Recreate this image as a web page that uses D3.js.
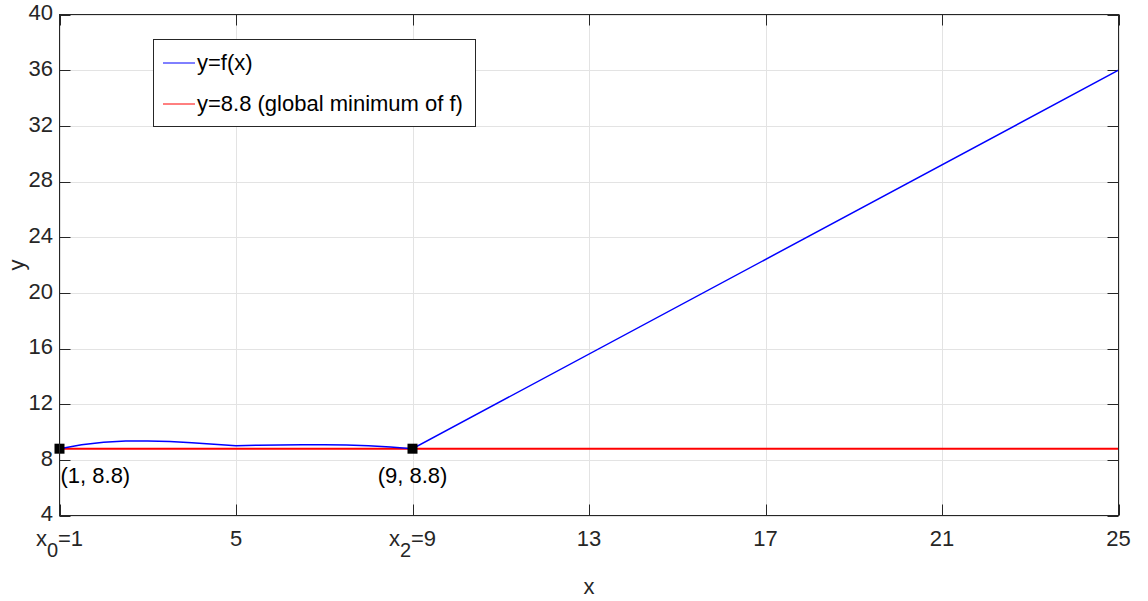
<!DOCTYPE html>
<html>
<head>
<meta charset="utf-8">
<script src="https://cdn.jsdelivr.net/npm/d3@7"></script>
<style>
  body { margin: 0; background: #fff; }
  text { font-family: "Liberation Sans", Arial, sans-serif; fill: #262626; }
</style>
</head>
<body>
<div class="display"></div>
<script>
// f(x) sampled from the picture, and the minimum line
const xs = [1, 1.5, 2, 2.5, 3, 3.5, 4, 4.5, 5, 5.5, 6, 6.5, 7, 7.5, 8, 8.5, 9, 25];
const ys = [8.8, 9.08, 9.26, 9.35, 9.36, 9.31, 9.22, 9.12, 9.02, 9.05, 9.07, 9.08, 9.08, 9.06, 9.01, 8.93, 8.8, 36];
const minY = 8.8;
const minX = [1, 25];
const markedX = [1, 9];
const markedLabels = ['(1, 8.8)', '(9, 8.8)'];

const xTicks = [1, 5, 9, 13, 17, 21, 25];
const xTickSub = { 1: ['x', '0', '=1'], 9: ['x', '2', '=9'] };
const yTicks = [4, 8, 12, 16, 20, 24, 28, 32, 36, 40];
const legendLabels = ['y=f(x)', 'y=8.8 (global minimum of f)'];

const WIDTH = 1148;
const HEIGHT = 601;
const LEFT = 59.5, RIGHT = 1118.5, TOP = 14.5, BOTTOM = 515.5;
const TICK = 11;

const svg = d3.select('.display').append('svg')
  .attr('width', WIDTH)
  .attr('height', HEIGHT);

const x = d3.scaleLinear().domain([1, 25]).range([LEFT, RIGHT]);
const y = d3.scaleLinear().domain([4, 40]).range([BOTTOM, TOP]);

// grid
const grid = svg.append('g');
grid.selectAll('.gx').data(xTicks).enter().append('line')
  .attr('x1', d => Math.round(x(d)) + 0.5).attr('x2', d => Math.round(x(d)) + 0.5)
  .attr('y1', TOP).attr('y2', BOTTOM)
  .attr('stroke', '#e3e3e3');
grid.selectAll('.gy').data(yTicks).enter().append('line')
  .attr('y1', d => Math.round(y(d)) + 0.5).attr('y2', d => Math.round(y(d)) + 0.5)
  .attr('x1', LEFT).attr('x2', RIGHT)
  .attr('stroke', '#e3e3e3');

// ticks on all four sides, pointing inward
const ticks = svg.append('g').attr('stroke', '#262626');
xTicks.forEach(d => {
  const px = Math.round(x(d)) + 0.5;
  ticks.append('line').attr('x1', px).attr('x2', px).attr('y1', BOTTOM).attr('y2', BOTTOM - TICK);
  ticks.append('line').attr('x1', px).attr('x2', px).attr('y1', TOP).attr('y2', TOP + TICK);
});
yTicks.forEach(d => {
  const py = Math.round(y(d)) + 0.5;
  ticks.append('line').attr('y1', py).attr('y2', py).attr('x1', LEFT).attr('x2', LEFT + TICK);
  ticks.append('line').attr('y1', py).attr('y2', py).attr('x1', RIGHT).attr('x2', RIGHT - TICK);
});

// data lines
const line = d3.line().x(d => x(d[0])).y(d => y(d[1]));
svg.append('path')
  .datum(minX.map(v => [v, minY]))
  .attr('d', line)
  .attr('fill', 'none')
  .attr('stroke', '#ff0000')
  .attr('stroke-width', 2);
svg.append('path')
  .datum(xs.map((v, i) => [v, ys[i]]))
  .attr('d', line)
  .attr('fill', 'none')
  .attr('stroke', '#0000ff')
  .attr('stroke-width', 1.5);

// markers
svg.selectAll('.marker').data(markedX).enter().append('rect')
  .attr('x', d => x(d) - 5).attr('y', y(minY) - 5)
  .attr('width', 10).attr('height', 10)
  .attr('fill', '#000');

svg.append('text')
  .attr('x', x(markedX[0]) + 1).attr('y', y(minY) + 28)
  .attr('dominant-baseline', 'middle')
  .attr('font-size', 22)
  .style('fill', '#000')
  .text(markedLabels[0]);
svg.append('text')
  .attr('x', x(markedX[1])).attr('y', y(minY) + 28)
  .attr('dominant-baseline', 'middle')
  .attr('text-anchor', 'middle')
  .attr('font-size', 22)
  .style('fill', '#000')
  .text(markedLabels[1]);

// box
svg.append('rect')
  .attr('x', LEFT).attr('y', TOP)
  .attr('width', RIGHT - LEFT).attr('height', BOTTOM - TOP)
  .attr('fill', 'none')
  .attr('stroke', '#262626');

// x tick labels
xTicks.forEach(d => {
  const t = svg.append('text')
    .attr('x', x(d)).attr('y', 540)
    .attr('text-anchor', 'middle')
    .attr('dominant-baseline', 'middle')
    .attr('font-size', 22);
  if (xTickSub[d]) {
    const parts = xTickSub[d];
    t.append('tspan').text(parts[0]);
    t.append('tspan').attr('dy', 12).attr('font-size', 20).text(parts[1]);
    t.append('tspan').attr('dy', -12).text(parts[2]);
  } else {
    t.text(d);
  }
});

// y tick labels
yTicks.forEach(d => {
  svg.append('text')
    .attr('x', 53).attr('y', y(d))
    .attr('text-anchor', 'end')
    .attr('dominant-baseline', 'middle')
    .attr('font-size', 22)
    .text(d);
});

// axis labels
svg.append('text')
  .attr('x', (LEFT + RIGHT) / 2).attr('y', 588)
  .attr('text-anchor', 'middle')
  .attr('dominant-baseline', 'middle')
  .attr('font-size', 22)
  .text('x');
svg.append('text')
  .attr('transform', `translate(18, ${(TOP + BOTTOM) / 2}) rotate(-90)`)
  .attr('text-anchor', 'middle')
  .attr('dominant-baseline', 'middle')
  .attr('font-size', 22)
  .text('y');

// legend
const legend = svg.append('g');
legend.append('rect')
  .attr('x', 153.5).attr('y', 39.5)
  .attr('width', 322).attr('height', 87)
  .attr('fill', '#fff')
  .attr('stroke', '#262626');
const legendColors = ['#0000ff', '#ff0000'];
legendLabels.forEach((label, i) => {
  const ly = 63 + i * 41;
  legend.append('line')
    .attr('x1', 163).attr('x2', 195)
    .attr('y1', ly).attr('y2', ly)
    .attr('stroke', legendColors[i]);
  legend.append('text')
    .attr('x', 197).attr('y', ly + 1)
    .attr('dominant-baseline', 'middle')
    .attr('font-size', 22)
    .style('fill', '#000')
    .text(label);
});
</script>
</body>
</html>
